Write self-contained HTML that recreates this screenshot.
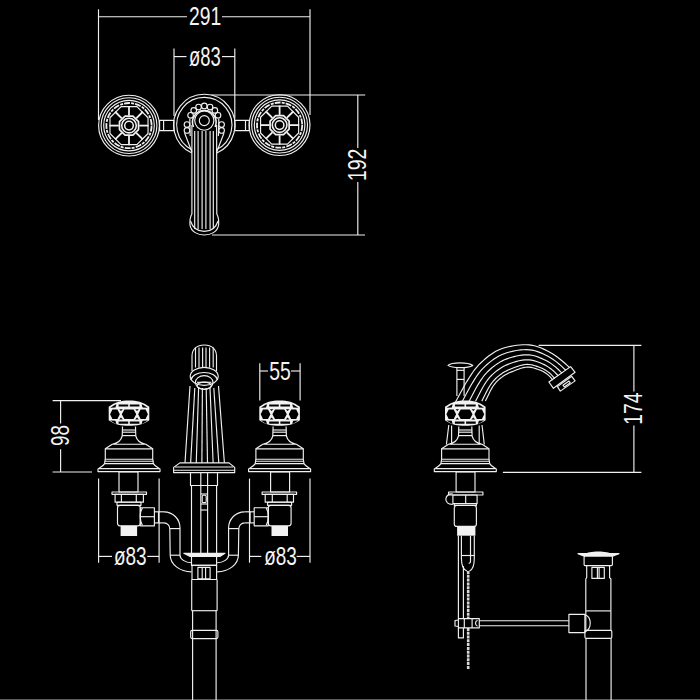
<!DOCTYPE html>
<html><head><meta charset="utf-8"><style>html,body{margin:0;padding:0;background:#000;width:700px;height:700px;overflow:hidden}svg{display:block}</style></head>
<body><svg width="700" height="700" viewBox="0 0 700 700">
<rect width="700" height="700" fill="#000"/>
<rect x="0" y="699" width="700" height="1" fill="#5c5c5c"/>
<g fill="#f2f2f2"><path d="M108.7 406.8 C115 401.8 121 400.4 129 400.4 C137 400.4 143 401.8 149.3 406.8 L149.3 420.2 C143 424.6 137 425.8 129 425.8 C121 425.8 115 424.6 108.7 420.2 Z"/><path d="M259.3 406.8 C265.6 401.8 271.6 400.4 279.6 400.4 C287.6 400.4 293.6 401.8 299.9 406.8 L299.9 420.2 C293.6 424.6 287.6 425.8 279.6 425.8 C271.6 425.8 265.6 424.6 259.3 420.2 Z"/><rect x="120.6" y="525.8" width="16.5" height="10.2"/><rect x="271.5" y="525.8" width="16.5" height="10.2"/><path d="M184 553.3 L225 553.3 L219.8 556.4 L190.2 556.4 Z"/><path d="M445 406.8 C451.3 401.8 457.3 400.4 465.3 400.4 C473.3 400.4 479.3 401.8 485.6 406.8 L485.6 420.2 C479.3 424.6 473.3 425.8 465.3 425.8 C457.3 425.8 451.3 424.6 445 420.2 Z"/><rect x="457.1" y="526.4" width="18.3" height="9.3"/><path d="M585.4 554.2 C587 550.6 609.5 550.6 611.1 554.2 Z M578 553.6 L619 553.6 L613 555.9 L583.7 555.9 Z"/></g>
<g fill="#000"><path d="M121.8 414.2 L124.4 409.6 L133.6 409.6 L136.2 414.2 L133.6 419 L124.4 419 Z M110.1 414.2 L112.4 409.6 L117.4 409.6 L119.8 414.2 L117.4 419 L112.4 419 Z M147.9 414.2 L145.6 409.6 L140.6 409.6 L138.2 414.2 L140.6 419 L145.6 419 Z M118.6 404.5 L128.2 404.5 L128.2 406.6 L118.6 406.6 Z M129.8 404.5 L139.4 404.5 L139.4 406.6 L129.8 406.6 Z M118.6 421.6 L128.2 421.6 L128.2 423.7 L118.6 423.7 Z M129.8 421.6 L139.4 421.6 L139.4 423.7 L129.8 423.7 Z M122.8 409.2 L119.2 409.2 L121 411 Z M122.8 419.4 L119.2 419.4 L121 417.6 Z M110.2 407.8 L115.4 404.6 L116.4 404.6 L115.4 407.6 Z M110.2 420.6 L115.4 423.7 L116.4 423.7 L115.4 420.8 Z M135.2 409.2 L138.8 409.2 L137 411 Z M135.2 419.4 L138.8 419.4 L137 417.6 Z M147.8 407.8 L142.6 404.6 L141.6 404.6 L142.6 407.6 Z M147.8 420.6 L142.6 423.7 L141.6 423.7 L142.6 420.8 Z"/><path d="M272.4 414.2 L275 409.6 L284.2 409.6 L286.8 414.2 L284.2 419 L275 419 Z M260.7 414.2 L263 409.6 L268 409.6 L270.4 414.2 L268 419 L263 419 Z M298.5 414.2 L296.2 409.6 L291.2 409.6 L288.8 414.2 L291.2 419 L296.2 419 Z M269.2 404.5 L278.8 404.5 L278.8 406.6 L269.2 406.6 Z M280.4 404.5 L290 404.5 L290 406.6 L280.4 406.6 Z M269.2 421.6 L278.8 421.6 L278.8 423.7 L269.2 423.7 Z M280.4 421.6 L290 421.6 L290 423.7 L280.4 423.7 Z M273.4 409.2 L269.8 409.2 L271.6 411 Z M273.4 419.4 L269.8 419.4 L271.6 417.6 Z M260.8 407.8 L266 404.6 L267 404.6 L266 407.6 Z M260.8 420.6 L266 423.7 L267 423.7 L266 420.8 Z M285.8 409.2 L289.4 409.2 L287.6 411 Z M285.8 419.4 L289.4 419.4 L287.6 417.6 Z M298.4 407.8 L293.2 404.6 L292.2 404.6 L293.2 407.6 Z M298.4 420.6 L293.2 423.7 L292.2 423.7 L293.2 420.8 Z"/><path d="M458.1 414.2 L460.7 409.6 L469.9 409.6 L472.5 414.2 L469.9 419 L460.7 419 Z M446.4 414.2 L448.7 409.6 L453.7 409.6 L456.1 414.2 L453.7 419 L448.7 419 Z M484.2 414.2 L481.9 409.6 L476.9 409.6 L474.5 414.2 L476.9 419 L481.9 419 Z M454.9 404.5 L464.5 404.5 L464.5 406.6 L454.9 406.6 Z M466.1 404.5 L475.7 404.5 L475.7 406.6 L466.1 406.6 Z M454.9 421.6 L464.5 421.6 L464.5 423.7 L454.9 423.7 Z M466.1 421.6 L475.7 421.6 L475.7 423.7 L466.1 423.7 Z M459.1 409.2 L455.5 409.2 L457.3 411 Z M459.1 419.4 L455.5 419.4 L457.3 417.6 Z M446.5 407.8 L451.7 404.6 L452.7 404.6 L451.7 407.6 Z M446.5 420.6 L451.7 423.7 L452.7 423.7 L451.7 420.8 Z M471.5 409.2 L475.1 409.2 L473.3 411 Z M471.5 419.4 L475.1 419.4 L473.3 417.6 Z M484.1 407.8 L478.9 404.6 L477.9 404.6 L478.9 407.6 Z M484.1 420.6 L478.9 423.7 L477.9 423.7 L478.9 420.8 Z"/></g>
<g fill="none" stroke="#f0f0f0" stroke-width="1.15" stroke-linejoin="round">
<line x1="98.5" y1="9.3" x2="98.5" y2="120"/>
<line x1="310" y1="9.3" x2="310" y2="115"/>
<line x1="98.5" y1="16.7" x2="187" y2="16.7"/>
<line x1="222" y1="16.7" x2="310" y2="16.7"/>
<line x1="174" y1="48.5" x2="174" y2="116"/>
<line x1="234.8" y1="48.5" x2="234.8" y2="118.6"/>
<line x1="174" y1="56.6" x2="186.5" y2="56.6"/>
<line x1="222" y1="56.6" x2="234.8" y2="56.6"/>
<line x1="211.4" y1="95" x2="365.2" y2="95"/>
<line x1="212" y1="235" x2="365" y2="235"/>
<line x1="357.8" y1="95" x2="357.8" y2="147.9"/>
<line x1="357.8" y1="182.1" x2="357.8" y2="235"/>
<circle cx="129" cy="125.6" r="30.4"/>
<circle cx="129" cy="125.6" r="27.9"/>
<circle cx="129" cy="125.6" r="25.3"/>
<circle cx="129" cy="125.6" r="22.6" stroke-width="1.8" stroke-dasharray="6 1.2 3 1"/>
<path d="M148.03 133.48 L136.88 144.63 L121.12 144.63 L109.97 133.48 L109.97 117.72 L121.12 106.57 L136.88 106.57 L148.03 117.72 Z"/>
<path stroke-width="1.7" d="M138.52 129.54 L132.94 135.12 L125.06 135.12 L119.48 129.54 L119.48 121.66 L125.06 116.08 L132.94 116.08 L138.52 121.66 Z"/>
<circle cx="129" cy="125.6" r="7.3" stroke-width="1.6"/>
<circle cx="129" cy="125.6" r="4.3" stroke-width="1.5"/>
<line stroke-width="1.8" x1="139.2" y1="125.6" x2="148.6" y2="125.6"/>
<line stroke-width="1.8" x1="136.21" y1="132.81" x2="142.86" y2="139.46"/>
<line stroke-width="1.8" x1="129" y1="135.8" x2="129" y2="145.2"/>
<line stroke-width="1.8" x1="121.79" y1="132.81" x2="115.14" y2="139.46"/>
<line stroke-width="1.8" x1="118.8" y1="125.6" x2="109.4" y2="125.6"/>
<line stroke-width="1.8" x1="121.79" y1="118.39" x2="115.14" y2="111.74"/>
<line stroke-width="1.8" x1="129" y1="115.4" x2="129" y2="106"/>
<line stroke-width="1.8" x1="136.21" y1="118.39" x2="142.86" y2="111.74"/>
<circle cx="279.6" cy="125.1" r="30.4"/>
<circle cx="279.6" cy="125.1" r="27.9"/>
<circle cx="279.6" cy="125.1" r="25.3"/>
<circle cx="279.6" cy="125.1" r="22.6" stroke-width="1.8" stroke-dasharray="6 1.2 3 1"/>
<path d="M298.63 132.98 L287.48 144.13 L271.72 144.13 L260.57 132.98 L260.57 117.22 L271.72 106.07 L287.48 106.07 L298.63 117.22 Z"/>
<path stroke-width="1.7" d="M289.12 129.04 L283.54 134.62 L275.66 134.62 L270.08 129.04 L270.08 121.16 L275.66 115.58 L283.54 115.58 L289.12 121.16 Z"/>
<circle cx="279.6" cy="125.1" r="7.3" stroke-width="1.6"/>
<circle cx="279.6" cy="125.1" r="4.3" stroke-width="1.5"/>
<line stroke-width="1.8" x1="289.8" y1="125.1" x2="299.2" y2="125.1"/>
<line stroke-width="1.8" x1="286.81" y1="132.31" x2="293.46" y2="138.96"/>
<line stroke-width="1.8" x1="279.6" y1="135.3" x2="279.6" y2="144.7"/>
<line stroke-width="1.8" x1="272.39" y1="132.31" x2="265.74" y2="138.96"/>
<line stroke-width="1.8" x1="269.4" y1="125.1" x2="260" y2="125.1"/>
<line stroke-width="1.8" x1="272.39" y1="117.89" x2="265.74" y2="111.24"/>
<line stroke-width="1.8" x1="279.6" y1="114.9" x2="279.6" y2="105.5"/>
<line stroke-width="1.8" x1="286.81" y1="117.89" x2="293.46" y2="111.24"/>
<rect x="159.6" y="120.4" width="14.3" height="10.2"/>
<rect x="234.8" y="120.4" width="14.4" height="10.2"/>
<line x1="163.6" y1="120.4" x2="163.6" y2="130.6"/>
<line x1="245.5" y1="120.4" x2="245.5" y2="130.6"/>
<path d="M191.9 153.08 A30.7 30.7 0 1 1 216.4 153.21"/>
<path d="M191.9 149.66 A27.6 27.6 0 1 1 216.4 149.81"/>
<circle cx="204.3" cy="105.9" r="2.8"/>
<circle cx="210.04" cy="107.07" r="2.8"/>
<circle cx="214.87" cy="110.39" r="2.8"/>
<circle cx="218.02" cy="115.33" r="2.8"/>
<circle cx="198.56" cy="107.07" r="2.8"/>
<circle cx="193.73" cy="110.39" r="2.8"/>
<circle cx="190.58" cy="115.33" r="2.8"/>
<circle cx="187" cy="124.6" r="2.8"/>
<circle cx="221.6" cy="124.6" r="2.8"/>
<circle cx="187" cy="130.4" r="2.8"/>
<circle cx="221.6" cy="130.4" r="2.8"/>
<path d="M189.8 119 L190.2 136 M184.6 133 L191.9 152 M218.8 119 L218.4 136 M224 133 L216.7 152"/>
<circle cx="204.3" cy="120.6" r="5"/>
<circle cx="204.3" cy="120.6" r="9.6"/>
<path stroke-width="1.6" d="M193.5 127 A11.8 11.8 0 1 1 215.1 127"/>
<path d="M191.9 125 L191.9 214 C190 217 189.8 222 190 225 C191 232 198 235 204.3 235 C210.6 235 217.6 232 218.6 225 C218.8 222 218.6 217 216.8 214 L216.6 125"/>
<path d="M190.5 221 C193 229 198 231.4 204.3 231.4 C210.6 231.4 215.6 229 218 221"/>
<line x1="194.7" y1="131" x2="194.7" y2="229"/>
<line x1="198.1" y1="131" x2="198.1" y2="229"/>
<line x1="202.1" y1="131" x2="202.1" y2="229"/>
<line x1="205.9" y1="131" x2="205.9" y2="229"/>
<line x1="210.1" y1="131" x2="210.1" y2="229"/>
<line x1="213.3" y1="131" x2="213.3" y2="229"/>
<path d="M122.5 426.5 L122.2 436 C121 441 117 443.4 112.2 444.2 L145.8 444.2 C141 443.4 137 441 135.8 436 L135.5 426.5"/>
<line x1="122.2" y1="430" x2="135.8" y2="430"/>
<line x1="122.2" y1="432.2" x2="135.8" y2="432.2"/>
<line x1="122.2" y1="435.6" x2="135.8" y2="435.6"/>
<path d="M112.2 444.2 L105.3 448.8 L105.3 459.2 L152.7 459.2 L152.7 448.8 L145.8 444.2"/>
<line x1="105.3" y1="448.8" x2="152.7" y2="448.8"/>
<path d="M105.3 459.2 L104.6 463.6 C103 466.5 99.5 468 98 469 L98 471.6 L160 471.6 L160 469 C158.5 468 155 466.5 153.4 463.6 L152.7 459.2"/>
<line x1="104.6" y1="461.2" x2="153.4" y2="461.2"/>
<line x1="104.6" y1="463.6" x2="153.4" y2="463.6"/>
<line x1="99" y1="468.6" x2="159" y2="468.6"/>
<path d="M273.1 426.5 L272.8 436 C271.6 441 267.6 443.4 262.8 444.2 L296.4 444.2 C291.6 443.4 287.6 441 286.4 436 L286.1 426.5"/>
<line x1="272.8" y1="430" x2="286.4" y2="430"/>
<line x1="272.8" y1="432.2" x2="286.4" y2="432.2"/>
<line x1="272.8" y1="435.6" x2="286.4" y2="435.6"/>
<path d="M262.8 444.2 L255.9 448.8 L255.9 459.2 L303.3 459.2 L303.3 448.8 L296.4 444.2"/>
<line x1="255.9" y1="448.8" x2="303.3" y2="448.8"/>
<path d="M255.9 459.2 L255.2 463.6 C253.6 466.5 250.1 468 248.6 469 L248.6 471.6 L310.6 471.6 L310.6 469 C309.1 468 305.6 466.5 304 463.6 L303.3 459.2"/>
<line x1="255.2" y1="461.2" x2="304" y2="461.2"/>
<line x1="255.2" y1="463.6" x2="304" y2="463.6"/>
<line x1="249.6" y1="468.6" x2="309.6" y2="468.6"/>
<rect x="119" y="472" width="19" height="20"/>
<rect x="112" y="492" width="34.5" height="2.3"/>
<rect x="115.1" y="494.3" width="28.3" height="7.9"/>
<line x1="121.4" y1="494.3" x2="121.4" y2="502.2"/>
<line x1="136.3" y1="494.3" x2="136.3" y2="502.2"/>
<rect x="117" y="502.2" width="24" height="3.1"/>
<rect x="117.5" y="505.3" width="22.8" height="20.5" rx="2.5"/>
<rect x="140.3" y="507.7" width="14.1" height="18.1"/>
<line x1="140.3" y1="516.7" x2="154.4" y2="516.7"/>
<path d="M142.5 508 C139.5 512 139.5 521 142.5 525.5"/>
<line x1="154.4" y1="511.8" x2="164" y2="511.8"/>
<line x1="154.4" y1="522.9" x2="164" y2="522.9"/>
<line x1="158.5" y1="511.8" x2="158.5" y2="522.9"/>
<path d="M164 511.8 A16 16 0 0 1 180 527.8 L180 555 A12.2 7.8 0 0 0 191.5 562.8"/>
<path d="M164 522.9 A5.8 5.8 0 0 1 169.8 528.7 L170.2 555 A21.3 16.8 0 0 0 191.5 571.8"/>
<line x1="169.8" y1="528.6" x2="180" y2="528.6"/>
<line x1="170.2" y1="555.2" x2="180" y2="555.2"/>
<line x1="98.6" y1="478.6" x2="98.6" y2="562.7"/>
<line x1="159.1" y1="478.6" x2="159.1" y2="562.7"/>
<line x1="98.6" y1="556.4" x2="112" y2="556.4"/>
<line x1="147.3" y1="556.4" x2="159.1" y2="556.4"/>
<rect x="270.6" y="472" width="19" height="20"/>
<rect x="262.1" y="492" width="34.5" height="2.3"/>
<rect x="265.2" y="494.3" width="28.3" height="7.9"/>
<line x1="287.2" y1="494.3" x2="287.2" y2="502.2"/>
<line x1="272.3" y1="494.3" x2="272.3" y2="502.2"/>
<rect x="267.6" y="502.2" width="24" height="3.1"/>
<rect x="268.3" y="505.3" width="22.8" height="20.5" rx="2.5"/>
<rect x="254.2" y="507.7" width="14.1" height="18.1"/>
<line x1="268.3" y1="516.7" x2="254.2" y2="516.7"/>
<path d="M266.1 508 C269.1 512 269.1 521 266.1 525.5"/>
<line x1="254.2" y1="511.8" x2="244.6" y2="511.8"/>
<line x1="254.2" y1="522.9" x2="244.6" y2="522.9"/>
<line x1="250.1" y1="511.8" x2="250.1" y2="522.9"/>
<path d="M244.6 511.8 A16 16 0 0 0 228.6 527.8 L228.6 555 A12.2 7.8 0 0 1 217.1 562.8"/>
<path d="M244.6 522.9 A5.8 5.8 0 0 0 238.8 528.7 L238.4 555 A21.3 16.8 0 0 1 217.1 571.8"/>
<line x1="238.8" y1="528.6" x2="228.6" y2="528.6"/>
<line x1="238.4" y1="555.2" x2="228.6" y2="555.2"/>
<line x1="310" y1="478.6" x2="310" y2="562.7"/>
<line x1="249.5" y1="478.6" x2="249.5" y2="562.7"/>
<line x1="310" y1="556.4" x2="296.6" y2="556.4"/>
<line x1="261.3" y1="556.4" x2="249.5" y2="556.4"/>
<rect x="190.5" y="472.5" width="27" height="13"/>
<line x1="191.5" y1="485.5" x2="191.5" y2="553.3"/>
<line x1="216.6" y1="485.5" x2="216.6" y2="553.3"/>
<line x1="200.8" y1="472.5" x2="200.8" y2="553.3"/>
<line x1="207.6" y1="472.5" x2="207.6" y2="553.3"/>
<line x1="200.8" y1="494" x2="207.6" y2="494"/>
<rect x="202.2" y="495.2" width="4" height="7.4" rx="1.2"/>
<line x1="200.8" y1="504" x2="207.6" y2="504"/>
<line x1="200.8" y1="510" x2="207.6" y2="510"/>
<path d="M183.8 553.3 L225 553.3 L219.8 556.4 L190.2 556.4 Z"/>
<rect x="191.5" y="556.4" width="25.1" height="9"/>
<rect x="192" y="565.4" width="24.6" height="14.1"/>
<rect x="197.9" y="567.3" width="12.2" height="11.6"/>
<line x1="202.2" y1="567.3" x2="202.2" y2="578.9"/>
<line x1="205.6" y1="567.3" x2="205.6" y2="578.9"/>
<line x1="191.7" y1="579.5" x2="191.7" y2="610.7"/>
<line x1="217.1" y1="579.5" x2="217.1" y2="610.7"/>
<line x1="191.7" y1="610.7" x2="217.1" y2="610.7"/>
<line x1="192.6" y1="610.7" x2="192.6" y2="700"/>
<line x1="216.1" y1="610.7" x2="216.1" y2="700"/>
<rect x="190.7" y="630.3" width="27.2" height="8.3" rx="1.5"/>
<path d="M190 386 L185 462.9 M218.5 386 L224.4 462.9"/>
<line x1="194.8" y1="388" x2="190.63" y2="462.9"/>
<line x1="198.6" y1="388" x2="196.26" y2="462.9"/>
<line x1="202.4" y1="388" x2="201.89" y2="462.9"/>
<line x1="206.2" y1="388" x2="207.51" y2="462.9"/>
<line x1="210" y1="388" x2="213.14" y2="462.9"/>
<line x1="213.8" y1="388" x2="218.77" y2="462.9"/>
<path d="M192 371 L192 356 C192 349 197 345 204.3 345 C211.6 345 216.5 349 216.5 356 L216.5 371"/>
<line x1="195.5" y1="347.5" x2="195.5" y2="367.5"/>
<line x1="199" y1="347.5" x2="199" y2="367.5"/>
<line x1="202.6" y1="347.5" x2="202.6" y2="367.5"/>
<line x1="206" y1="347.5" x2="206" y2="367.5"/>
<line x1="209.6" y1="347.5" x2="209.6" y2="367.5"/>
<line x1="213.2" y1="347.5" x2="213.2" y2="367.5"/>
<ellipse cx="204.2" cy="376.3" rx="14" ry="9"/>
<path d="M191 380 A13.3 8.6 0 0 1 217.4 380"/>
<ellipse cx="204.2" cy="382.4" rx="8.8" ry="6.8"/>
<ellipse cx="204.2" cy="385.8" rx="7.1" ry="3.6"/>
<line x1="197" y1="382.3" x2="211.4" y2="382.3"/>
<path d="M179.9 462.9 L229 462.9 L234.7 467.4 L234.7 472.6 L173.6 472.6 L173.6 467.4 Z"/>
<line x1="175" y1="467" x2="233.3" y2="467"/>
<line x1="173.6" y1="470.2" x2="234.7" y2="470.2"/>
<line x1="52.6" y1="400.6" x2="121" y2="400.6"/>
<line x1="52.6" y1="472" x2="92" y2="472"/>
<line x1="60.6" y1="400.6" x2="60.6" y2="423.6"/>
<line x1="60.6" y1="449.3" x2="60.6" y2="472"/>
<line x1="259.8" y1="363.3" x2="259.8" y2="400.6"/>
<line x1="300.1" y1="363.3" x2="300.1" y2="400.6"/>
<line x1="259.8" y1="371" x2="268" y2="371"/>
<line x1="291" y1="371" x2="300.1" y2="371"/>
<path d="M448 365.4 C452 362 468 362 472.8 365.4 C468 368.4 452 368.4 448 365.4 Z"/>
<line x1="456.9" y1="367.5" x2="456.9" y2="396"/>
<line x1="464.1" y1="367.5" x2="464.1" y2="396"/>
<line x1="456.9" y1="370.3" x2="464.1" y2="370.3"/>
<line x1="456.9" y1="379.4" x2="464.1" y2="379.4"/>
<path d="M455.5 402 L457 399.25 L458.49 396.5 L459.97 393.73 L461.45 390.98 L462.95 388.23 L464.48 385.5 L466.06 382.79 L467.71 380.13 L469.37 377.47 L471.05 374.83 L472.8 372.23 L474.65 369.7 L476.62 367.27 L478.73 364.96 L480.95 362.75 L483.24 360.61 L485.59 358.55 L488.02 356.57 L490.53 354.69 L493.12 352.93 L495.81 351.34 L498.62 349.95 L501.52 348.77 L504.49 347.79 L507.52 346.97 L510.58 346.31 L513.66 345.76 L516.76 345.3 L519.87 344.97 L523 344.78 L526.13 344.75 L529.26 344.92 L532.36 345.31 L535.42 345.98 L538.4 346.93 L541.32 348.07 L544.17 349.36 L546.99 350.74 L549.77 352.18 L552.49 353.72 L555.11 355.44 L557.62 357.31 L560.08 359.25 L562.53 361.2 L564.9 363.25 L567.19 365.38 L569.5 367.5"/>
<path d="M462.08 401.78 L463.44 399.28 L464.77 396.76 L466.1 394.24 L467.43 391.73 L468.78 389.22 L470.15 386.73 L471.58 384.26 L473.06 381.83 L474.56 379.41 L476.11 377.02 L477.73 374.68 L479.43 372.4 L481.26 370.21 L483.2 368.14 L485.24 366.15 L487.35 364.24 L489.52 362.39 L491.75 360.64 L494.06 358.97 L496.44 357.42 L498.91 356.01 L501.48 354.77 L504.11 353.7 L506.81 352.78 L509.55 352 L512.31 351.34 L515.1 350.77 L517.9 350.3 L520.72 349.94 L523.56 349.72 L526.4 349.67 L529.25 349.81 L532.07 350.17 L534.85 350.78 L537.57 351.63 L540.23 352.64 L542.84 353.77 L545.41 354.99 L547.96 356.27 L550.45 357.65 L552.83 359.2 L555.13 360.89 L557.37 362.64 L559.58 364.43 L561.71 366.32 L563.76 368.29 L565.83 370.25"/>
<path d="M468.96 401.55 L470.16 399.3 L471.34 397.04 L472.51 394.78 L473.68 392.51 L474.87 390.25 L476.08 388.01 L477.34 385.79 L478.65 383.6 L480 381.44 L481.41 379.31 L482.88 377.23 L484.44 375.22 L486.1 373.29 L487.87 371.46 L489.73 369.71 L491.64 368.03 L493.62 366.42 L495.65 364.89 L497.75 363.45 L499.92 362.12 L502.16 360.89 L504.46 359.81 L506.83 358.85 L509.23 358.01 L511.67 357.26 L514.12 356.6 L516.6 356.02 L519.09 355.52 L521.61 355.13 L524.14 354.89 L526.69 354.81 L529.24 354.93 L531.77 355.26 L534.26 355.8 L536.7 356.54 L539.09 357.41 L541.45 358.39 L543.77 359.43 L546.07 360.54 L548.3 361.76 L550.45 363.13 L552.52 364.62 L554.54 366.18 L556.51 367.8 L558.37 369.53 L560.17 371.34 L561.99 373.12"/>
<path d="M475.53 401.33 L476.59 399.32 L477.62 397.31 L478.64 395.29 L479.66 393.26 L480.7 391.25 L481.75 389.24 L482.85 387.26 L484 385.3 L485.2 383.38 L486.47 381.51 L487.81 379.68 L489.23 377.92 L490.74 376.23 L492.34 374.63 L494.02 373.11 L495.75 371.66 L497.54 370.26 L499.38 368.96 L501.29 367.74 L503.24 366.6 L505.26 365.57 L507.32 364.63 L509.42 363.78 L511.55 363 L513.69 362.29 L515.86 361.63 L518.03 361.03 L520.23 360.52 L522.46 360.1 L524.7 359.83 L526.96 359.72 L529.23 359.83 L531.47 360.12 L533.69 360.6 L535.86 361.23 L538 361.98 L540.11 362.8 L542.2 363.68 L544.26 364.62 L546.26 365.68 L548.18 366.88 L550.03 368.19 L551.83 369.57 L553.56 371.03 L555.18 372.61 L556.73 374.25 L558.31 375.88"/>
<path d="M481.81 401.12 L482.73 399.35 L483.62 397.56 L484.5 395.77 L485.37 393.98 L486.26 392.19 L487.17 390.42 L488.11 388.66 L489.1 386.93 L490.16 385.23 L491.3 383.6 L492.51 382.01 L493.8 380.49 L495.16 379.04 L496.61 377.66 L498.12 376.36 L499.68 375.12 L501.28 373.94 L502.94 372.84 L504.66 371.82 L506.42 370.89 L508.21 370.02 L510.04 369.23 L511.89 368.48 L513.76 367.77 L515.63 367.08 L517.51 366.43 L519.41 365.82 L521.32 365.28 L523.27 364.85 L525.24 364.54 L527.22 364.42 L529.22 364.5 L531.19 364.77 L533.15 365.18 L535.07 365.72 L536.96 366.34 L538.84 367.02 L540.7 367.73 L542.53 368.52 L544.3 369.43 L546.01 370.47 L547.65 371.6 L549.24 372.8 L550.75 374.1 L552.14 375.54 L553.46 377.03 L554.8 378.5"/>
<path d="M485.4 401 L486.24 399.36 L487.04 397.71 L487.84 396.05 L488.64 394.39 L489.44 392.73 L490.26 391.09 L491.12 389.46 L492.02 387.85 L492.99 386.29 L494.06 384.79 L495.2 383.35 L496.41 381.96 L497.69 380.64 L499.05 379.4 L500.46 378.22 L501.92 377.1 L503.42 376.03 L504.98 375.06 L506.59 374.16 L508.23 373.34 L509.91 372.57 L511.6 371.85 L513.31 371.17 L515.02 370.5 L516.73 369.83 L518.45 369.17 L520.19 368.56 L521.95 368.01 L523.73 367.56 L525.54 367.24 L527.37 367.1 L529.21 367.17 L531.03 367.42 L532.83 367.8 L534.61 368.28 L536.37 368.83 L538.11 369.42 L539.84 370.05 L541.54 370.75 L543.18 371.58 L544.77 372.52 L546.29 373.55 L547.76 374.65 L549.15 375.86 L550.4 377.21 L551.58 378.62 L552.8 380"/>
<path d="M548.9 382 L570.6 366.6 L575.1 372.3 L553.4 388.3 Z"/>
<path d="M557.4 386.6 L571.7 376.3 L575.1 380.9 L560.3 391.1 Z"/>
<path d="M563 385.2 L569 381 L570.3 382.8 L564.3 387 Z"/>
<path d="M458.8 426.5 L458.5 436 C457.3 441 453.3 443.4 448.5 444.2 L482.1 444.2 C477.3 443.4 473.3 441 472.1 436 L471.8 426.5"/>
<line x1="458.5" y1="430" x2="472.1" y2="430"/>
<line x1="458.5" y1="432.2" x2="472.1" y2="432.2"/>
<line x1="458.5" y1="435.6" x2="472.1" y2="435.6"/>
<path d="M448.5 444.2 L441.6 448.8 L441.6 459.2 L489 459.2 L489 448.8 L482.1 444.2"/>
<line x1="441.6" y1="448.8" x2="489" y2="448.8"/>
<path d="M441.6 459.2 L440.9 463.6 C439.3 466.5 435.8 468 434.3 469 L434.3 471.6 L496.3 471.6 L496.3 469 C494.8 468 491.3 466.5 489.7 463.6 L489 459.2"/>
<line x1="440.9" y1="461.2" x2="489.7" y2="461.2"/>
<line x1="440.9" y1="463.6" x2="489.7" y2="463.6"/>
<line x1="435.3" y1="468.6" x2="495.3" y2="468.6"/>
<path d="M446.4 444.5 L448.8 425 M484.3 444.5 L482 425 M451.6 425.5 L451.6 444.5 M479.2 425.5 L479.2 444.5"/>
<line x1="502.9" y1="472.3" x2="641.4" y2="472.3"/>
<line x1="538.6" y1="345.4" x2="641.4" y2="345.4"/>
<line x1="633.9" y1="345.4" x2="633.9" y2="391.4"/>
<line x1="633.9" y1="425.4" x2="633.9" y2="472.5"/>
<rect x="456.1" y="472" width="18.9" height="20"/>
<rect x="448.6" y="492" width="34.3" height="3"/>
<rect x="452.9" y="495" width="24.2" height="8.6"/>
<line x1="465.7" y1="495" x2="465.7" y2="503.6"/>
<path d="M452.9 494 C444 493 443 505 452.9 504.3"/>
<rect x="454.3" y="503.6" width="22.1" height="1.9"/>
<rect x="454.3" y="505.5" width="22.1" height="20.9" rx="2.5"/>
<line x1="458.4" y1="535.7" x2="458.4" y2="618.6"/>
<line x1="463.4" y1="566" x2="463.4" y2="618.6"/>
<path d="M458.4 627.9 L458.4 637.9 L463.4 637.9 L463.4 627.9"/>
<path d="M461.4 535.7 L461.4 558 C461.4 566 464 570 467 571 M474.3 535.7 L474.3 558 C474.3 566 472 570 469.5 571"/>
<line x1="461.4" y1="555.5" x2="474.3" y2="555.5"/>
<path d="M470.5 535.7 L470.5 561 C470.5 563 469.5 563.5 468.8 562.8"/>
<path stroke-width="2.6" stroke-dasharray="3 0.8" stroke="#d8d8d8" d="M468.2 571 L468.2 618.6 M468.2 627.9 L468.2 669.6"/>
<rect x="458.4" y="618.6" width="20.9" height="9.3"/>
<line x1="464.3" y1="618.6" x2="464.3" y2="627.9"/>
<line x1="472.1" y1="618.6" x2="472.1" y2="627.9"/>
<path d="M458.4 620 L455 620.5 L455 626 L458.4 626.5"/>
<path d="M477.6 620.2 C474.8 621.2 474.8 625.3 477.6 626.3"/>
<line x1="479.3" y1="620.7" x2="568.9" y2="620.7"/>
<line x1="479.3" y1="625.7" x2="568.9" y2="625.7"/>
<path d="M578 553.6 L619 553.6 L613 555.9 L583.7 555.9 Z"/>
<rect x="584.1" y="555.9" width="28.3" height="9.7" rx="1"/>
<path d="M586.7 565.6 L586.7 577.6 L585.8 579 L585.8 610.9 M609.6 565.6 L609.6 577.6 L610.9 579 L610.9 610.9"/>
<line x1="585.8" y1="610.9" x2="610.9" y2="610.9"/>
<rect x="591.9" y="567.3" width="12.4" height="11.1"/>
<line x1="597.4" y1="567.3" x2="597.4" y2="578.4"/>
<line x1="599.1" y1="567.3" x2="599.1" y2="578.4"/>
<rect x="568.9" y="614.3" width="16" height="18.3"/>
<path d="M584.9 614.8 C592 617 592 629 584.9 632"/>
<line x1="585.8" y1="610.9" x2="585.8" y2="630.3"/>
<line x1="610.9" y1="610.9" x2="610.9" y2="630.3"/>
<rect x="584.9" y="630.3" width="26.9" height="8" rx="1.2"/>
<line x1="586" y1="638.3" x2="586" y2="700"/>
<line x1="611.1" y1="638.3" x2="611.1" y2="700"/>
</g>
<g fill="#f4f4f4" font-family="Liberation Sans, sans-serif"><text transform="translate(189.03 24.66) scale(0.738 1)" font-size="26.17">291</text><text transform="translate(189.09 65.51) scale(0.676 1)" font-size="27.23">ø83</text><text transform="translate(365.87 181.08) rotate(-90) scale(0.756 1)" font-size="25.74">192</text><text transform="translate(113.88 564.74) scale(0.748 1)" font-size="25.42">ø83</text><text transform="translate(264.18 564.74) scale(0.746 1)" font-size="25.42">ø83</text><text transform="translate(68.76 446.08) rotate(-90) scale(0.715 1)" font-size="26.31">98</text><text transform="translate(269.22 379.77) scale(0.753 1)" font-size="25.82">55</text><text transform="translate(641.83 424.87) rotate(-90) scale(0.742 1)" font-size="26.06">174</text></g>
</svg></body></html>
